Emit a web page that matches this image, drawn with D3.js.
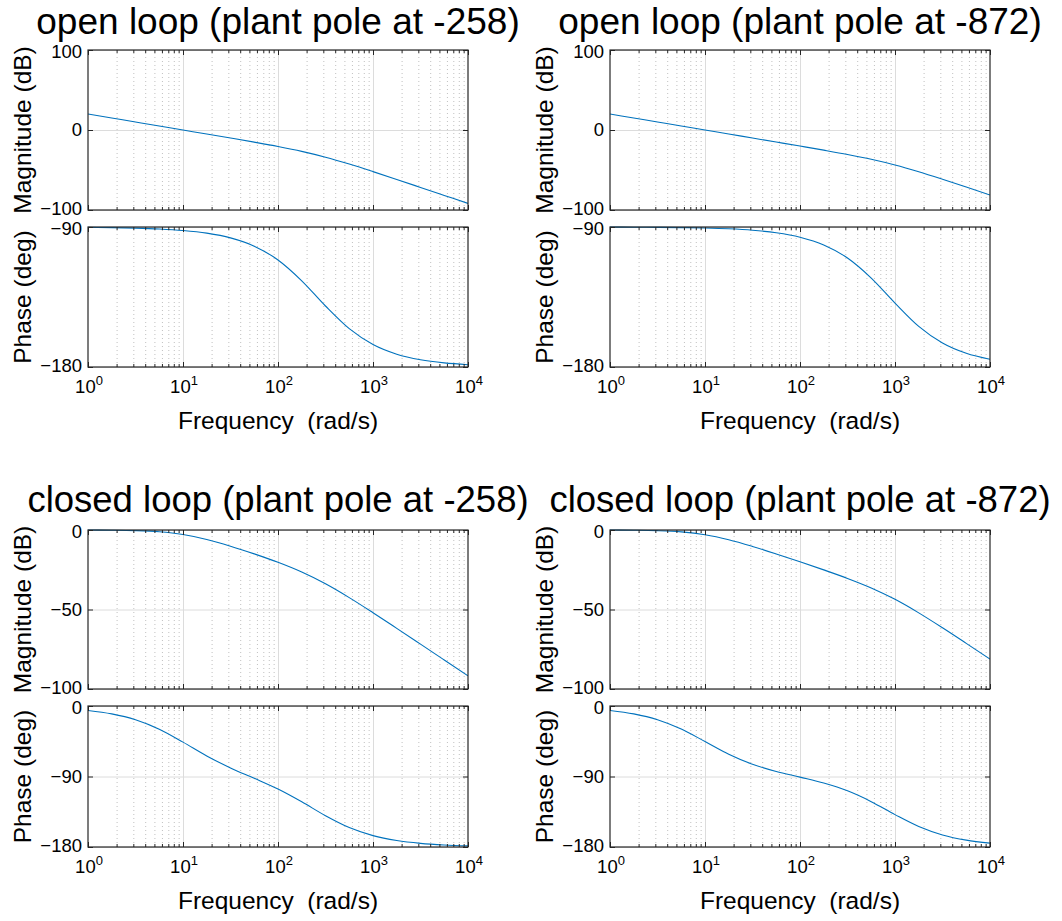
<!DOCTYPE html>
<html><head><meta charset="utf-8">
<script src="https://cdn.jsdelivr.net/npm/d3@7"></script>
<style>
body{margin:0;background:#fff}
svg{display:block}
text{font-family:"Liberation Sans",Arial,Helvetica,sans-serif;fill:#000;white-space:pre}
</style>
</head><body>
<svg id="chart" width="1062" height="921"></svg>
<script>
// ---- data (quarter-decade samples) ----
const freq = [1, 1.778, 3.162, 5.623, 10, 17.78, 31.62, 56.23, 100, 177.8, 316.2, 562.3, 1000, 1778, 3162, 5623, 10000];

const olMag258 = [20.0, 15.0, 10.0, 5.0, -0.01, -5.02, -10.06, -15.20, -20.61, -26.69, -33.98, -42.60, -52.05, -61.86, -71.80, -81.78, -91.77];
const olPh258  = [-90.22, -90.39, -90.70, -91.25, -92.22, -93.94, -96.99, -102.30, -111.19, -124.57, -140.79, -155.35, -165.53, -171.74, -175.34, -177.37, -178.52];
const olMag872 = [20.0, 15.0, 10.0, 5.0, 0.0, -5.0, -10.01, -15.02, -20.06, -25.18, -30.54, -36.51, -43.65, -52.13, -61.51, -71.29, -81.22];
const olPh872  = [-90.07, -90.12, -90.21, -90.37, -90.66, -91.17, -92.08, -93.69, -96.54, -101.52, -109.93, -122.82, -138.91, -153.87, -164.58, -171.19, -175.02];
const clMag258 = [-0.04, -0.12, -0.38, -1.11, -2.84, -5.95, -10.16, -15.01, -20.35, -26.46, -33.85, -42.54, -52.03, -61.85, -71.79, -81.77, -91.77];
const clPh258  = [-5.71, -10.09, -17.61, -29.65, -46.13, -63.74, -79.04, -92.30, -106.05, -122.34, -140.05, -155.18, -165.49, -171.73, -175.33, -177.37, -178.52];
const clMag872 = [-0.04, -0.13, -0.41, -1.17, -2.96, -6.12, -10.33, -15.05, -20.00, -25.09, -30.45, -36.44, -43.60, -52.11, -61.50, -71.29, -81.22];
const clPh872  = [-5.71, -10.09, -17.56, -29.43, -45.32, -61.54, -74.36, -83.53, -90.84, -98.40, -108.32, -122.09, -138.66, -153.81, -164.57, -171.19, -175.01];

const titles = ["open loop (plant pole at -258)", "open loop (plant pole at -872)",
                "closed loop (plant pole at -258)", "closed loop (plant pole at -872)"];
const xTickExponents = ["0", "1", "2", "3", "4"];
const xDecades = [1, 10, 100, 1000, 10000];
const magTicksOpen = [-100, 0, 100];
const phTicksOpen = [-180, -90];
const magTicksClosed = [-100, -50, 0];
const phTicksClosed = [-180, -90, 0];
const magLabel = "Magnitude (dB)";
const phLabel = "Phase (deg)";
const freqLabel = "Frequency  (rad/s)";

// ---- layout ----
const cols = [[88, 468], [610, 990]];
const rows = [{mag: [50, 210], ph: [227, 367], title: 34, titleSize: 37},
              {mag: [530, 689], ph: [706, 847], title: 512, titleSize: 36.5}];
const lineColor = "#0072BD";

const panels = [
  {title: titles[0], c: 0, r: 0, mag: olMag258, ph: olPh258, magT: magTicksOpen, phT: phTicksOpen},
  {title: titles[1], c: 1, r: 0, mag: olMag872, ph: olPh872, magT: magTicksOpen, phT: phTicksOpen},
  {title: titles[2], c: 0, r: 1, mag: clMag258, ph: clPh258, magT: magTicksClosed, phT: phTicksClosed},
  {title: titles[3], c: 1, r: 1, mag: clMag872, ph: clPh872, magT: magTicksClosed, phT: phTicksClosed}
];

const svg = d3.select("#chart");
const minorFreqs = [];
for (let d = 0; d < 4; d++) for (let k = 2; k <= 9; k++) minorFreqs.push(k * Math.pow(10, d));

let clipId = 0;
function drawAxes(x0, x1, y0, y1, values, yTicks, yLabel, showX) {
  const x = d3.scaleLog().domain([1, 10000]).range([x0, x1]);
  const y = d3.scaleLinear().domain(d3.extent(yTicks)).range([y1, y0]);
  const g = svg.append("g");
  const H = y1 - y0, W = x1 - x0;

  // minor x grid (dotted)
  g.append("g").attr("transform", `translate(0,${y1})`)
    .call(d3.axisBottom(x).tickValues(minorFreqs).tickSize(-H).tickFormat(""))
    .call(s => { s.select(".domain").remove();
      s.selectAll("line").attr("stroke", "#b0b0b0").attr("stroke-width", 0.8).attr("stroke-dasharray", "1,3"); });
  // major x grid
  g.append("g").attr("transform", `translate(0,${y1})`)
    .call(d3.axisBottom(x).tickValues(xDecades.slice(1, -1)).tickSize(-H).tickFormat(""))
    .call(s => { s.select(".domain").remove();
      s.selectAll("line").attr("stroke", "#dcdcdc").attr("stroke-width", 1); });
  // major y grid
  g.append("g").attr("transform", `translate(${x0},0)`)
    .call(d3.axisLeft(y).tickValues(yTicks).tickSize(-W).tickFormat(""))
    .call(s => { s.select(".domain").remove();
      s.selectAll("line").attr("stroke", "#dcdcdc").attr("stroke-width", 1); });

  // curve
  const id = "clip" + (clipId++);
  svg.append("clipPath").attr("id", id).append("rect")
    .attr("x", x0).attr("y", y0 - 1).attr("width", W).attr("height", H + 2);
  const pts = freq.map((f, i) => ({f, v: values[i]}));
  g.append("path").datum(pts)
    .attr("clip-path", `url(#${id})`)
    .attr("fill", "none").attr("stroke", lineColor).attr("stroke-width", 1.1)
    .attr("d", d3.line().x(d => x(d.f)).y(d => y(d.v)).curve(d3.curveMonotoneX));

  // ticks (inside, all four sides)
  const tickStyle = s => { s.select(".domain").remove();
    s.selectAll("line").attr("stroke", "#262626").attr("stroke-width", 1); };
  g.append("g").attr("transform", `translate(0,${y1})`)
    .call(d3.axisBottom(x).tickValues(minorFreqs).tickSize(-3).tickFormat("")).call(tickStyle);
  g.append("g").attr("transform", `translate(0,${y1})`)
    .call(d3.axisBottom(x).tickValues(xDecades).tickSize(-5).tickFormat("")).call(tickStyle);
  g.append("g").attr("transform", `translate(0,${y0})`)
    .call(d3.axisTop(x).tickValues(minorFreqs).tickSize(-3).tickFormat("")).call(tickStyle);
  g.append("g").attr("transform", `translate(0,${y0})`)
    .call(d3.axisTop(x).tickValues(xDecades).tickSize(-5).tickFormat("")).call(tickStyle);
  g.append("g").attr("transform", `translate(${x1},0)`)
    .call(d3.axisRight(y).tickValues(yTicks).tickSize(-5).tickFormat("")).call(tickStyle);
  const yl = g.append("g").attr("transform", `translate(${x0},0)`)
    .call(d3.axisLeft(y).tickValues(yTicks).tickSize(-5).tickPadding(6).tickFormat(d3.format("d")));
  tickStyle(yl);
  yl.selectAll("text").attr("font-size", 18.5).attr("font-family", "Liberation Sans, Arial, sans-serif").attr("fill", "#000")
    .attr("dy", d => d === y.domain()[1] ? "0.42em" : (d === y.domain()[0] ? "0.24em" : "0.32em"));

  // box
  g.append("rect").attr("x", x0).attr("y", y0).attr("width", W).attr("height", H)
    .attr("fill", "none").attr("stroke", "#262626").attr("stroke-width", 1.2);

  // y label
  g.append("text")
    .attr("transform", `translate(${x0 - 57},${(y0 + y1) / 2}) rotate(-90)`)
    .attr("text-anchor", "middle").attr("font-size", 24.5).text(yLabel);

  if (showX) {
    xDecades.forEach((f, i) => {
      const t = g.append("text").attr("x", x(f) + 1).attr("y", y1 + 26)
        .attr("text-anchor", "middle").attr("font-size", 18.5);
      t.append("tspan").text("10");
      t.append("tspan").attr("font-size", 13).attr("dy", -8).text(xTickExponents[i]);
    });
    g.append("text").attr("x", (x0 + x1) / 2).attr("y", y1 + 62)
      .attr("text-anchor", "middle").attr("font-size", 24.5).text(freqLabel);
  }
}

panels.forEach(p => {
  const [x0, x1] = cols[p.c];
  const row = rows[p.r];
  svg.append("text").attr("x", (x0 + x1) / 2).attr("y", row.title)
    .attr("text-anchor", "middle").attr("font-size", row.titleSize).text(p.title);
  drawAxes(x0, x1, row.mag[0], row.mag[1], p.mag, p.magT, magLabel, false);
  drawAxes(x0, x1, row.ph[0], row.ph[1], p.ph, p.phT, phLabel, true);
});
</script>
</body></html>
